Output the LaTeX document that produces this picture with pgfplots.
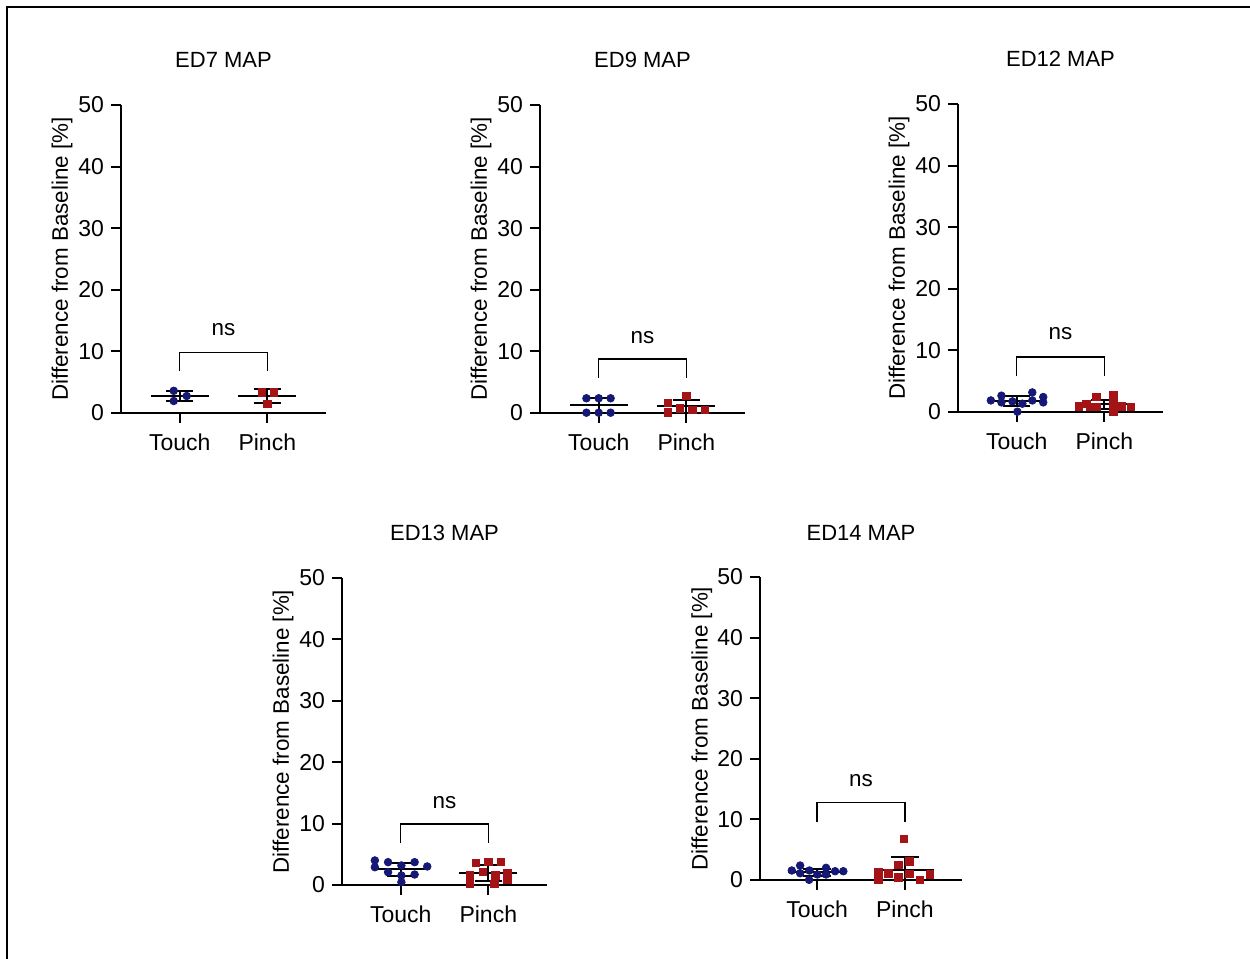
\documentclass[border=0pt]{standalone}
\usepackage{pgfplots}
\pgfplotsset{compat=1.18}
\usepackage{fontspec}
\setmainfont{Liberation Sans}

\definecolor{touchc}{RGB}{22,24,118}
\definecolor{pinchc}{RGB}{164,20,22}

\pgfplotsset{
  prism/.style={
    scale only axis, width=102.5pt, height=154pt,
    anchor=south west,
    xmin=0.33, xmax=2.67, ymin=0, ymax=50,
    axis lines=left,
    axis line style={-, line width=1pt},
    xtick={1,2}, xticklabels={Touch,Pinch},
    ytick={0,10,20,30,40,50},
    tick align=outside, major tick length=5pt,
    every tick/.style={black, line width=1pt},
    tick label style={font=\fontsize{11.5}{13}\selectfont},
    xticklabel style={yshift=-2pt},
    /pgf/number format/assume math mode=true,
    ylabel={Difference from Baseline [\%]},
    every axis y label/.style={at={(axis description cs:-0.288,0.5)}, rotate=90, anchor=center, font=\fontsize{11.2}{13}\selectfont},
    every axis title/.style={at={(axis description cs:0.5,1.147)}, anchor=center, font=\fontsize{11}{13}\selectfont},
    clip=false,
  },
  touchpts/.style={only marks, mark=*, mark size=1.9pt, color=touchc, mark options={fill=touchc, draw=touchc}},
  pinchpts/.style={only marks, mark=square*, mark size=1.85pt, color=pinchc, mark options={fill=pinchc, draw=pinchc}},
}

% mean line with SD whiskers: #1 mean, #2 lower, #3 upper
\newcommand\sumT[3]{%
  \addplot[black, line width=1pt] coordinates {(0.67,#1) (1.33,#1)};
  \addplot[black, line width=1pt] coordinates {(1,#2) (1,#3)};
  \addplot[black, line width=1pt] coordinates {(0.845,#3) (1.155,#3)};
  \addplot[black, line width=1pt] coordinates {(0.845,#2) (1.155,#2)};
}
\newcommand\sumP[3]{%
  \addplot[black, line width=1pt] coordinates {(1.67,#1) (2.33,#1)};
  \addplot[black, line width=1pt] coordinates {(2,#2) (2,#3)};
  \addplot[black, line width=1pt] coordinates {(1.845,#3) (2.155,#3)};
  \addplot[black, line width=1pt] coordinates {(1.845,#2) (2.155,#2)};
}
% significance bracket: #1 top, #2 leg end, #3 label height
\newcommand\bracket[3]{%
  \addplot[black, line width=0.75pt] coordinates {(1,#2) (1,#1) (2,#1) (2,#2)};
  \node[font=\fontsize{11.2}{13}\selectfont] at (axis cs:1.5,#3) {ns};
}

\begin{document}
\begin{tikzpicture}
\useasboundingbox (0,0) rectangle (625pt,-479.5pt);
\draw[line width=1.3pt] (3.5pt,-479.5pt) -- (3.5pt,-3.5pt) -- (625pt,-3.5pt);

% ED7
\begin{axis}[prism, at={(60.5pt,-206.5pt)}, title={ED7 MAP}]
  \addplot[touchpts] coordinates {(0.932,3.60) (1.080,2.76) (0.932,1.95)};
  \addplot[pinchpts] coordinates {(1.940,3.36) (2.072,3.36) (2.003,1.46)};
  \sumT{2.77}{1.95}{3.59}
  \sumP{2.78}{1.63}{3.85}
  \bracket{9.85}{6.8}{13.5}
\end{axis}

% ED9
\begin{axis}[prism, at={(270pt,-206.5pt)}, title={ED9 MAP}]
  \addplot[touchpts] coordinates {(0.86,2.39) (1.0,2.39) (1.136,2.39) (0.86,0.05) (1.0,0.05) (1.136,0.05)};
  \addplot[pinchpts] coordinates {(1.79,1.67) (2.0,2.76) (1.79,0.11) (1.93,0.76) (2.07,0.49) (2.21,0.49)};
  \sumT{1.25}{0}{2.5}
  \sumP{1.10}{0.08}{2.04}
  \bracket{8.8}{5.7}{12.3}
\end{axis}

% ED12
\begin{axis}[prism, at={(479pt,-206pt)}, title={ED12 MAP}]
  \addplot[touchpts] coordinates {(0.705,1.88) (0.826,2.65) (0.826,1.56) (0.951,1.72) (1.065,1.35)
    (1.008,0.05) (1.178,3.18) (1.178,1.88) (1.303,2.43) (1.303,1.56)};
  \addplot[pinchpts] coordinates {(1.708,0.91) (1.795,1.35) (1.841,0.81) (1.909,2.43) (1.909,0.81)
    (2.106,2.81) (2.106,1.56) (2.106,0.10) (2.201,0.91) (2.303,0.81)};
  \sumT{1.83}{0.99}{2.67}
  \sumP{1.22}{0.47}{1.95}
  \bracket{8.9}{5.8}{12.8}
\end{axis}

% ED13
\begin{axis}[prism, at={(171pt,-442.5pt)}, height=153.5pt, title={ED13 MAP}]
  \addplot[touchpts] coordinates {(0.705,4.00) (0.705,2.90) (0.856,3.72) (0.856,2.09) (1.008,3.18)
    (1.008,1.55) (1.008,0.46) (1.159,3.72) (1.159,1.71) (1.303,3.02)};
  \addplot[pinchpts] coordinates {(1.860,3.56) (2.003,3.72) (2.144,3.72) (1.935,2.09) (1.792,1.55)
    (1.792,0.20) (2.080,1.55) (2.220,1.93) (2.220,0.85) (2.068,0.20)};
  \sumT{2.55}{1.42}{3.62}
  \sumP{1.94}{0.60}{3.30}
  \bracket{9.9}{6.8}{13.5}
\end{axis}

% ED14
\begin{axis}[prism, at={(380pt,-440pt)}, width=101pt, height=151.5pt, xmin=0.35, xmax=2.65, title={ED14 MAP}]
  \addplot[touchpts] coordinates {(0.712,1.57) (0.807,2.39) (0.807,1.12) (0.913,1.57) (0.909,0.03)
    (1.003,0.91) (1.102,2.01) (1.102,0.91) (1.205,1.45) (1.299,1.45)};
  \addplot[pinchpts] coordinates {(1.989,6.80) (2.049,3.10) (1.924,2.50) (1.697,1.29) (1.697,0.03)
    (1.810,1.12) (1.924,0.46) (2.049,1.02) (2.170,0.03) (2.284,0.91)};
  \sumT{1.32}{0.72}{1.88}
  \sumP{1.70}{0}{3.77}
  \bracket{12.8}{9.5}{16.4}
\end{axis}
\end{tikzpicture}
\end{document}
